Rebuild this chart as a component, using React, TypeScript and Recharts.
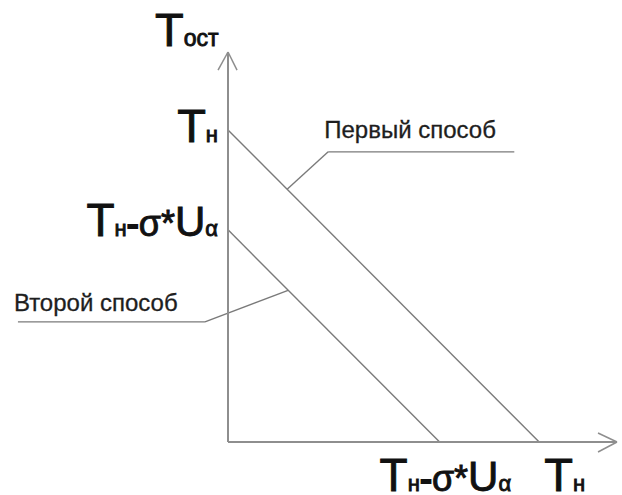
import { LineChart, Line, XAxis, YAxis, ReferenceLine } from 'recharts'

// values in arbitrary units: T_н = 100, T_н - σ*U_α = 68
const T_N = 100
const T_N_SIGMA = 68
const AXIS_MAX = 125

const firstX = [0, T_N]
const firstY = [T_N, 0]
const secondX = [0, T_N_SIGMA]
const secondY = [T_N_SIGMA, 0]

const tickValues = [T_N_SIGMA, T_N]

// leader lines for the two captions
const firstCalloutX = [19, 32.2, 92]
const firstCalloutY = [81, 93, 93]
const secondCalloutX = [19.3, -7.4, -67.5]
const secondCalloutY = [48.6, 38.5, 38.5]

const firstLabel = 'Первый способ'
const secondLabel = 'Второй способ'

const FONT = '"Liberation Sans", Arial, sans-serif'
const LINE_COLOR = '#7a7a7a'
const AXIS_COLOR = '#8e8e8e'
const TEXT_COLOR = '#111'

const toPoints = (xs: number[], ys: number[]) => xs.map((x, i) => ({ x, y: ys[i] }))

const firstData = toPoints(firstX, firstY)
const secondData = toPoints(secondX, secondY)

// "Tн-σ*Uα" / "Tн" drawn with mixed sizes
function TickText({ value }: { value: number }) {
  if (value === T_N) {
    return (
      <>
        <tspan fontSize={47}>T</tspan>
        <tspan fontSize={22}>н</tspan>
      </>
    )
  }
  return (
    <>
      <tspan fontSize={46}>T</tspan>
      <tspan fontSize={22}>н</tspan>
      <tspan fontSize={36} strokeWidth={2}>-</tspan>
      <tspan fontSize={36}>σ*</tspan>
      <tspan fontSize={42}>U</tspan>
      <tspan fontSize={22}>α</tspan>
    </>
  )
}

const heavy = { stroke: TEXT_COLOR, strokeWidth: 0.9, fill: TEXT_COLOR, fontFamily: FONT }

function YTick({ x, y, payload }: any) {
  const dy = payload.value === T_N ? 12 : 6
  return (
    <text x={x - 10} y={y + dy} textAnchor="end" {...heavy}>
      <TickText value={payload.value} />
    </text>
  )
}

function XTick({ x, y, payload }: any) {
  const dx = payload.value === T_N ? 5 : -60
  return (
    <text x={x + dx} y={y + 49} textAnchor="start" {...heavy}>
      <TickText value={payload.value} />
    </text>
  )
}

function YTitle({ viewBox }: any) {
  return (
    <text x={viewBox.x + viewBox.width - 73} y={viewBox.y - 6} {...heavy}>
      <tspan fontSize={47}>T</tspan>
      <tspan fontSize={23}>ост</tspan>
    </text>
  )
}

function segments(xs: number[], ys: number[]) {
  const out = []
  for (let i = 0; i < xs.length - 1; i++) {
    out.push([{ x: xs[i], y: ys[i] }, { x: xs[i + 1], y: ys[i + 1] }])
  }
  return out
}

const captionLabel = (text: string, dx: number, dy: number) => ({ viewBox }: any) => (
  <text x={viewBox.x + dx} y={viewBox.y + dy} fill="#1e1e1e" stroke="#1e1e1e" strokeWidth={0.3} fontSize={24} fontFamily={FONT}>
    {text}
  </text>
)

// arrow heads at the axis ends
const yArrowX = [-3.2, 0, 2.9]
const yArrowY = [119.2, AXIS_MAX, 119.2]
const xArrowX = [118.9, AXIS_MAX, 118.9]
const xArrowY = [2.9, 0, -3.2]

export default function App() {
  const firstSegs = segments(firstCalloutX, firstCalloutY)
  const secondSegs = segments(secondCalloutX, secondCalloutY)
  return (
    <div style={{ position: 'absolute', left: 0, top: 0, background: '#fff' }}>
      <LineChart width={622} height={495} margin={{ top: 52, right: 5, left: 0, bottom: 0 }}>
        <XAxis
          dataKey="x"
          type="number"
          domain={[0, AXIS_MAX]}
          ticks={tickValues}
          tick={<XTick />}
          tickLine={false}
          tickSize={0}
          tickMargin={0}
          height={53}
          axisLine={{ stroke: AXIS_COLOR, strokeWidth: 2 }}
        />
        <YAxis
          type="number"
          domain={[0, AXIS_MAX]}
          ticks={tickValues}
          tick={<YTick />}
          tickLine={false}
          tickSize={0}
          tickMargin={0}
          width={228}
          axisLine={{ stroke: AXIS_COLOR, strokeWidth: 2 }}
          label={{ content: <YTitle /> }}
        />
        <Line data={firstData} dataKey="y" stroke={LINE_COLOR} strokeWidth={1.4} dot={false} isAnimationActive={false} />
        <Line data={secondData} dataKey="y" stroke={LINE_COLOR} strokeWidth={1.4} dot={false} isAnimationActive={false} />
        {firstSegs.map((s, i) => (
          <ReferenceLine
            key={'f' + i}
            segment={s}
            ifOverflow="visible"
            stroke={LINE_COLOR}
            strokeWidth={1.4}
            label={i === firstSegs.length - 1 ? captionLabel(firstLabel, -4, -14) : undefined}
          />
        ))}
        {secondSegs.map((s, i) => (
          <ReferenceLine
            key={'s' + i}
            segment={s}
            ifOverflow="visible"
            stroke={LINE_COLOR}
            strokeWidth={1.4}
            label={i === secondSegs.length - 1 ? captionLabel(secondLabel, -4, -11) : undefined}
          />
        ))}
        {segments(yArrowX, yArrowY).map((s, i) => (
          <ReferenceLine key={'ya' + i} segment={s} ifOverflow="visible" stroke={AXIS_COLOR} strokeWidth={1.5} />
        ))}
        {segments(xArrowX, xArrowY).map((s, i) => (
          <ReferenceLine key={'xa' + i} segment={s} ifOverflow="visible" stroke={AXIS_COLOR} strokeWidth={1.5} />
        ))}
      </LineChart>
    </div>
  )
}
